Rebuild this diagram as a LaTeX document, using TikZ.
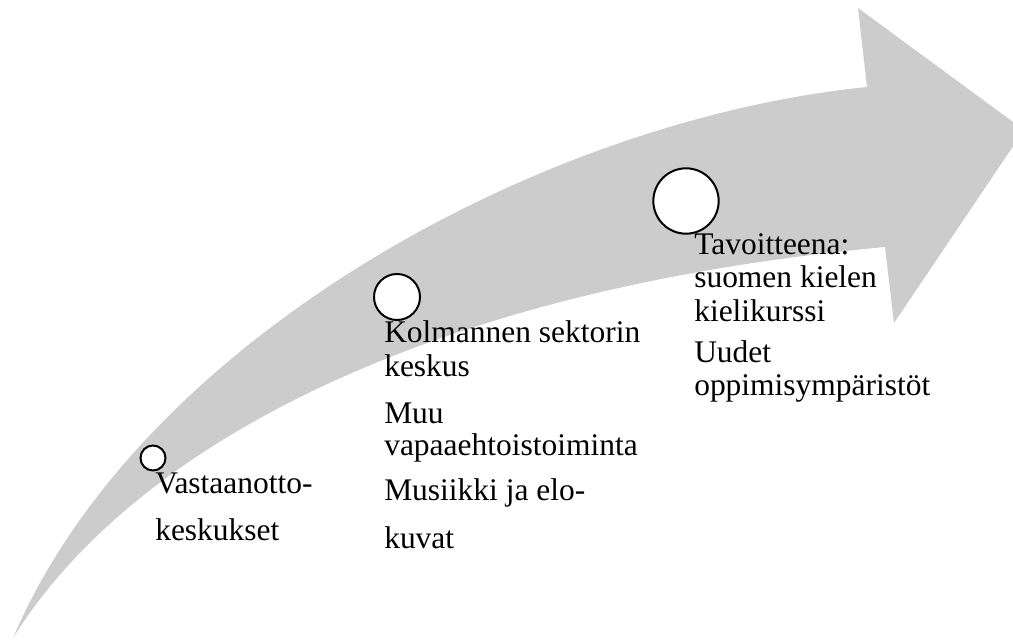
\documentclass[tikz,border=0pt]{standalone}
\usepackage{fontspec}
\setmainfont{Liberation Serif}
\definecolor{arrowgrey}{RGB}{204,204,204}
\tikzset{
  lbl/.style={anchor=base west, inner sep=0pt, font=\fontsize{23.6}{24}\selectfont},
  dot/.style={circle, draw=black, fill=white, line width=1.5pt, inner sep=0pt}
}
\begin{document}
\begin{tikzpicture}[x=0.75pt, y=-0.75pt]
\useasboundingbox (0,0) rectangle (1013,641);
\clip (0,0) rectangle (1013,641);
% big curved arrow
\fill[arrowgrey] (13,638)
  .. controls (140,340) and (540,120) .. (867,87)
  -- (858,8) -- (1024,130) -- (894,323) -- (885,247)
  .. controls (420,290) and (130,450) .. (13,638) -- cycle;
% circles
\node[dot, minimum size=18.75pt] (c1) at (153,458) {};
\node[dot, minimum size=34.5pt] (c2) at (397,297) {};
\node[dot, minimum size=49pt] (c3) at (686,201) {};
% texts
\node[lbl] (t1a) at (155,493) {Vastaanotto-};
\node[lbl] (t1b) at (155,540) {keskukset};
\node[lbl] (t2a) at (384,343) {Kolmannen sektorin};
\node[lbl] (t2b) at (384,377) {keskus};
\node[lbl] (t2c) at (384,423) {Muu};
\node[lbl] (t2d) at (384,455) {vapaaehtoistoiminta};
\node[lbl] (t2e) at (384,500) {Musiikki ja elo-};
\node[lbl] (t2f) at (384,548) {kuvat};
\node[lbl] (t3a) at (694,255) {Tavoitteena:};
\node[lbl] (t3b) at (694,288) {suomen kielen};
\node[lbl] (t3c) at (694,322) {kielikurssi};
\node[lbl] (t3d) at (694,363) {Uudet};
\node[lbl] (t3e) at (694,395) {oppimisympäristöt};
\end{tikzpicture}
\end{document}
